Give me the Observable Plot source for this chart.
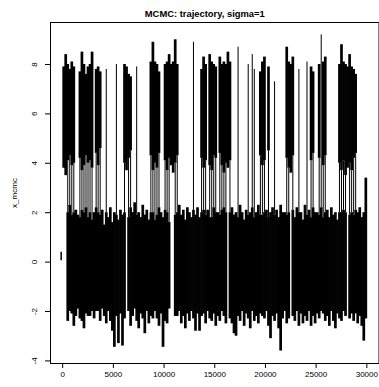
<!DOCTYPE html>
<html>
<head>
<meta charset="utf-8">
<script src="https://cdn.jsdelivr.net/npm/d3@7"></script>
<script src="https://cdn.jsdelivr.net/npm/@observablehq/plot@0.6"></script>
<style>
  html, body { margin: 0; padding: 0; background: #fff; }
  #chart { width: 379px; height: 387px; }
</style>
</head>
<body>
<div id="chart"></div>
<script>
// ---- Labels & ticks ----
const titleText = "MCMC: trajectory, sigma=1";
const yLabel = "x_mcmc";
const xTicks = [0, 5000, 10000, 15000, 20000, 25000, 30000];
const yTicks = [-4, -2, 0, 2, 4, 6, 8];

// ---- Trajectory envelope, 150 bins of 200 iterations ----
const binSize = 200;
// first iteration (isolated start value)
const startIter = [1];
const startLow = [0.05];
const startHigh = [0.4];

// max / min reached inside the upper mode (null = chain not in upper mode in that bin)
const upperHigh = [
  7.9, 8.4, 8.0, 7.8, 8.1, 7.9, null, null, 7.7, 8.5,
  8.0, 7.6, 7.9, 8.0, 8.5, null, 7.8, 7.9, 7.7, null,
  null, 7.8, null, null, null, null, 8.0, null, null, null,
  8.0, 7.9, 7.6, 7.5, null, null, 7.9, null, null, null,
  null, null, null, 8.1, 8.9, 8.1, 8.0, 7.7, null, null,
  8.0, 8.1, 8.4, 8.0, 8.1, 9.0, 8.0, null, null, null,
  null, null, null, null, 8.9, null, null, null, 7.8, 8.3,
  8.0, null, 8.4, 8.1, 8.0, 7.9, null, 8.3, 8.0, 8.1,
  8.0, 8.5, 8.1, null, null, null, 8.7, null, null, null,
  null, 8.0, null, 8.4, 7.8, null, null, 7.7, 8.1, 8.3,
  null, 7.9, null, null, 7.3, null, null, null, null, null,
  8.7, 8.1, 8.0, 8.3, null, null, 7.8, null, null, null,
  8.1, null, 7.9, 7.7, null, null, 8.0, 9.2, 8.1, 8.3,
  null, null, null, null, null, null, 8.0, 8.8, 8.1, 8.0,
  7.9, 8.4, 7.9, 7.8, 7.6, null, null, null, null, null
];
// null here with a non-null upperHigh = a single short excursion (thin spike)
const upperLow = [
  3.8, 3.5, 4.1, 4.3, 3.9, 4.0, null, null, 4.2, 3.7,
  3.9, 4.3, 4.0, 4.1, 3.8, null, 4.4, 3.9, 4.6, null,
  null, null, null, null, null, null, null, null, null, null,
  4.0, 3.7, 4.2, 4.5, null, null, null, null, null, null,
  null, null, null, 4.3, 3.7, 4.0, 3.8, 4.4, null, null,
  4.1, 3.7, 4.2, 3.9, 3.6, 4.0, 4.3, null, null, null,
  null, null, null, null, null, null, null, null, 4.2, 3.8,
  4.1, null, 3.9, 3.7, 4.3, 4.2, null, 4.4, 3.9, 3.6,
  4.0, 3.8, 4.1, null, null, null, null, null, null, null,
  null, null, null, null, null, null, null, 4.3, 3.9, 4.1,
  null, 4.5, null, null, null, null, null, null, null, null,
  4.2, 3.8, 3.6, 4.3, null, null, null, null, null, null,
  null, null, 4.1, 4.4, null, null, 4.2, null, 3.9, 4.3,
  null, null, null, null, null, null, 4.0, 3.7, 4.1, 3.5,
  3.8, 4.0, 3.7, 4.2, 4.4, null, null, null, null, null
];
// max / min reached inside the lower mode (null = chain stayed in upper mode)
const lowerHigh = [
  null, null, 2.0, 2.3, 1.9, 2.0, 2.1, 1.9, 1.8, 2.1,
  2.0, 2.2, 1.8, 2.0, 1.7, 2.0, 2.2, 2.0, 1.9, 2.1,
  1.5, 2.0, 1.8, 2.2, 1.6, 2.0, 1.9, 1.7, 2.1, 1.9,
  2.0, null, 1.8, 2.2, 2.0, 2.4, 1.9, 2.0, 1.8, 2.3,
  1.9, 2.1, 1.7, 2.0, 2.0, 1.7, 1.9, 2.2, 2.0, 1.8,
  2.1, 2.0, 1.6, null, null, 1.9, 2.0, 2.3, 1.9, 2.1,
  1.7, 2.2, 2.0, 1.8, 2.1, 1.9, 2.2, 1.8, 2.0, 2.1,
  1.9, 2.1, 1.8, 1.8, 2.2, 2.0, 2.0, 1.9, 2.1, 2.2,
  2.0, null, 2.0, 2.2, 1.9, 2.0, 1.8, 2.3, 2.0, 1.7,
  2.1, 1.9, 2.0, 2.2, 1.8, 2.0, 2.3, 1.9, 1.9, 2.0,
  2.1, 1.8, 2.0, 2.2, 1.9, 2.1, 1.8, 2.3, 2.0, 2.0,
  1.9, 2.0, null, 2.1, 1.8, 2.2, 2.0, 2.0, 1.7, 2.3,
  1.9, 2.1, 1.8, 2.2, 2.0, 2.0, 1.9, 2.2, 1.8, 2.0,
  2.1, 1.8, 2.2, 1.9, 2.0, 1.7, 2.0, 2.0, 2.1, 2.0,
  null, 1.9, 2.0, 1.9, 2.1, 2.0, 2.2, 1.8, 2.0, 3.4
];
const lowerLow = [
  null, null, -2.4, -2.0, -2.1, -2.6, -2.2, -1.9, -2.3, -2.4,
  -2.7, -2.1, -2.2, -2.2, -2.0, -2.3, -2.0, -2.0, -2.4, -1.9,
  -2.2, -2.5, -2.0, -2.4, -2.8, -3.45, -2.2, -3.3, -2.1, -3.4,
  -2.3, null, -2.0, -2.6, -2.2, -1.9, -2.4, -2.7, -2.1, -2.3,
  -2.9, -2.0, -2.5, -2.2, -2.3, -2.0, -2.3, -2.6, -2.1, -3.45,
  -2.4, -2.5, -1.9, null, null, -2.2, -2.2, -2.0, -2.5, -2.2,
  -2.7, -2.1, -2.4, -2.0, -2.3, -2.8, -2.1, -2.8, -2.2, -2.1,
  -2.5, -2.0, -2.3, -2.4, -2.1, -2.6, -2.2, -2.4, -2.0, -2.2,
  -2.5, null, -2.3, -2.5, -2.9, -3.0, -2.2, -2.4, -2.0, -2.6,
  -2.1, -2.3, -2.7, -2.0, -2.4, -2.2, -2.5, -2.1, -2.2, -2.3,
  -2.0, -2.6, -3.1, -2.2, -2.4, -2.1, -2.7, -3.6, -2.3, -2.0,
  -2.5, -2.3, null, -2.2, -2.4, -2.0, -2.6, -2.1, -2.5, -2.2,
  -2.4, -2.0, -2.6, -2.2, -2.5, -2.1, -2.3, -2.0, -2.1, -2.4,
  -2.2, -2.6, -2.0, -2.4, -2.7, -2.1, -2.3, -2.4, -2.0, -2.2,
  null, -2.3, -2.1, -2.4, -2.1, -2.5, -2.2, -2.6, -3.2, -2.3
];

// ---- Build tables ----
const bins = upperHigh.map((_, i) => ({
  mid: i * binSize + binSize / 2,
  uHi: upperHigh[i], uLo: upperLow[i],
  lHi: lowerHigh[i], lLo: lowerLow[i]
}));
const upperBands = bins.filter(d => d.uHi != null && d.uLo != null);
const lowerBands = bins.filter(d => d.lHi != null);
const jumps = bins
  .filter(d => d.uHi != null && d.lHi != null)
  .map(d => ({mid: d.mid, from: d.lHi, to: d.uLo != null ? d.uLo : d.uHi}));
const starts = startIter.map((x, i) => ({x, lo: startLow[i], hi: startHigh[i]}));

const font = "'Liberation Sans', Arial, Helvetica, sans-serif";

const chart = Plot.plot({
  width: 379,
  height: 387,
  marginLeft: 50,
  marginRight: 0.5,
  marginTop: 22,
  marginBottom: 24,
  x: {domain: [-1200, 31200]},
  y: {domain: [-4.105, 9.70]},
  style: {fontFamily: font, fontSize: "8px", background: "white", color: "black"},
  marks: [
    Plot.ruleX(upperBands, {x: "mid", y1: "uLo", y2: "uHi", stroke: "black", strokeWidth: 2.7, strokeLinecap: "butt"}),
    Plot.ruleX(lowerBands, {x: "mid", y1: "lLo", y2: "lHi", stroke: "black", strokeWidth: 2.7, strokeLinecap: "butt"}),
    Plot.ruleX(jumps, {x: "mid", y1: "from", y2: "to", stroke: "black", strokeWidth: 1}),
    Plot.ruleX(starts, {x: "x", y1: "lo", y2: "hi", dx: -1.5, stroke: "black", strokeWidth: 1.5}),
    Plot.frame({stroke: "black", strokeWidth: 1}),
    Plot.axisX({ticks: xTicks, tickSize: 5, tickPadding: 3, tickFormat: d => String(d), fontSize: 8, label: null}),
    Plot.axisY({ticks: yTicks, tickSize: 5, tickFormat: () => "", label: null}),
    Plot.text(yTicks, {y: d => d, text: d => String(d), frameAnchor: "left", dx: -16, rotate: -90, textAnchor: "middle", lineAnchor: "middle", fontSize: 8}),
    Plot.text([yLabel], {text: d => d, frameAnchor: "left", dx: -36, rotate: -90, textAnchor: "middle", lineAnchor: "middle", fontSize: 8}),
    Plot.text([titleText], {text: d => d, frameAnchor: "top", dy: -9, dx: -10, textAnchor: "middle", lineAnchor: "middle", fontWeight: "bold", fontSize: 9.4})
  ]
});
document.getElementById("chart").appendChild(chart);
</script>
</body>
</html>
